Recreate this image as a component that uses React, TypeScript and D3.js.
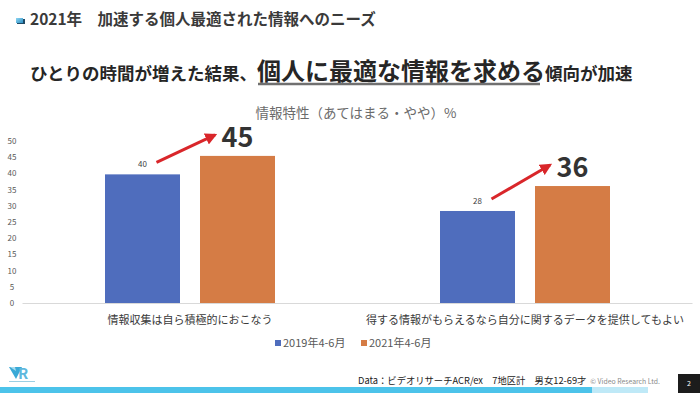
import * as d3 from 'd3'

const categories = ['情報収集は自ら積極的におこなう', '得する情報がもらえるなら自分に関するデータを提供してもよい']
const seriesNames = ['2019年4-6月', '2021年4-6月']
const values2019 = [39.7, 28.4]
const values2021 = [45.4, 36.1]
const yTicks = [0, 5, 10, 15, 20, 25, 30, 35, 40, 45, 50]

const colors = ['#4f6dbd', '#d57c45']
const font = '"Noto Sans CJK JP", "Noto Sans", sans-serif'

const width = 700
const height = 393
const plotLeft = 22.5
const plotRight = 692.5
const plotTop = 141
const plotBottom = 303

export default function App() {
  const x = d3.scaleBand<string>().domain(categories).range([plotLeft, plotRight]).paddingInner(0).paddingOuter(0)
  const inner = d3
    .scaleBand<string>()
    .domain(seriesNames)
    .range([x.bandwidth() / 2 - 85, x.bandwidth() / 2 + 85])
    .paddingInner(20 / 95)
    .paddingOuter(0)
  const y = d3.scaleLinear().domain([0, 50]).range([plotBottom, plotTop])
  const series = [values2019, values2021]

  return (
    <div style={{ position: 'fixed', left: 0, top: 0 }}>
      <svg width={width} height={height} style={{ display: 'block', fontFamily: font }}>
        <defs>
          <linearGradient id="icon-grad" x1="0" y1="0" x2="1" y2="1">
            <stop offset="0%" stopColor="#8fd6f2" />
            <stop offset="100%" stopColor="#2c8fc4" />
          </linearGradient>
          <marker id="arrow-head" viewBox="0 0 10 10" refX="8" refY="5" markerWidth="4" markerHeight="4" orient="auto">
            <path d="M0,0 L10,5 L0,10 z" fill="#d9262a" />
          </marker>
        </defs>
        <rect width={width} height={height} fill="#ffffff" />

        {/* header */}
        <rect x={17} y={19} width={8} height={5} fill="#1f4a66" />
        <rect x={16} y={18} width={7} height={5} fill="url(#icon-grad)" />
        <text x={30} y={25} fontSize={15.5} fontWeight={700} fill="#3a3a3a">
          2021年　加速する個人最適された情報へのニーズ
        </text>

        <text x={30} y={80} fill="#262626" fontWeight={700}>
          <tspan fontSize={17.5}>ひとりの時間が増えた結果、</tspan>
          <tspan fontSize={24}>個人に最適な情報を求める</tspan>
          <tspan fontSize={17.5}>傾向が加速</tspan>
        </text>
        <line x1={258} x2={540} y1={84} y2={84} stroke="#707070" strokeWidth={2.5} />

        <text x={356} y={118} textAnchor="middle" fontSize={13.5} fill="#6b6b6b">
          情報特性（あてはまる・やや）%
        </text>

        {/* y axis labels */}
        {yTicks.map((t) => (
          <text key={t} x={12} y={y(t) + 3} textAnchor="middle" fontSize={8} fill="#595959">
            {t}
          </text>
        ))}
        <line x1={plotLeft} x2={plotRight} y1={plotBottom + 0.5} y2={plotBottom + 0.5} stroke="#d9d9d9" strokeWidth={1} />

        {/* bars */}
        {categories.map((cat, ci) => (
          <g key={cat} transform={`translate(${x(cat)},0)`}>
            {seriesNames.map((s, si) => (
              <rect
                key={s}
                x={inner(s)}
                y={y(series[si][ci])}
                width={inner.bandwidth()}
                height={plotBottom - y(series[si][ci])}
                fill={colors[si]}
              />
            ))}
            <text
              x={(inner(seriesNames[0]) ?? 0) + inner.bandwidth() / 2}
              y={y(series[0][ci]) - 7}
              textAnchor="middle"
              fontSize={8}
              fill="#404040"
            >
              {Math.round(series[0][ci])}
            </text>
            <line
              x1={(inner(seriesNames[0]) ?? 0) + inner.bandwidth() / 2 + 14}
              y1={y(series[0][ci]) - 12}
              x2={(inner(seriesNames[1]) ?? 0) + 15}
              y2={y(series[1][ci]) - 21}
              stroke="#d9262a"
              strokeWidth={3}
              markerEnd="url(#arrow-head)"
            />
            <text
              x={(inner(seriesNames[1]) ?? 0) + inner.bandwidth() / 2}
              y={y(series[1][ci]) - 9}
              textAnchor="middle"
              fontSize={27}
              fontWeight={700}
              fill="#333333"
            >
              {Math.round(series[1][ci])}
            </text>
            <text x={x.bandwidth() / 2} y={324} textAnchor="middle" fontSize={11} fill="#3a3a3a">
              {cat}
            </text>
          </g>
        ))}

        {/* legend */}
        {seriesNames.map((s, i) => (
          <g key={s} transform={`translate(${275 + i * 86},0)`}>
            <rect x={0} y={340} width={6} height={6} fill={colors[i]} />
            <text x={8} y={347} fontSize={11} fill="#595959">
              {s}
            </text>
          </g>
        ))}

        {/* footer */}
        <path d="M9,367 L22,367 L16,379 z" fill="#3aa9d6" />
        <path d="M10,367 L15,367 L16,371 z" fill="#a8dcef" />
        <text x={18} y={379} fontSize={15} fontWeight={700} fill="#5fb8dd">
          R
        </text>
        <rect x={9} y={381} width={26} height={1} fill="#9ccfe3" />
        <text x={358} y={384} textLength={302} lengthAdjust="spacingAndGlyphs">
          <tspan fontSize={9.5} fill="#222">Data：ビデオリサーチACR/ex　7地区計　男女12-69才</tspan>
          <tspan fontSize={7} fill="#8a8a8a" dx={4}>© Video Research Ltd.</tspan>
        </text>
        <rect x={0} y={387} width={592} height={6} fill="#4cc3ea" />
        <rect x={592} y={387} width={56} height={6} fill="#bfe9f7" />
        <rect x={678} y={374} width={22} height={19} fill="#1c1c1c" />
        <text x={689} y={386} textAnchor="middle" fontSize={7} fill="#ffffff">
          2
        </text>
      </svg>
    </div>
  )
}
